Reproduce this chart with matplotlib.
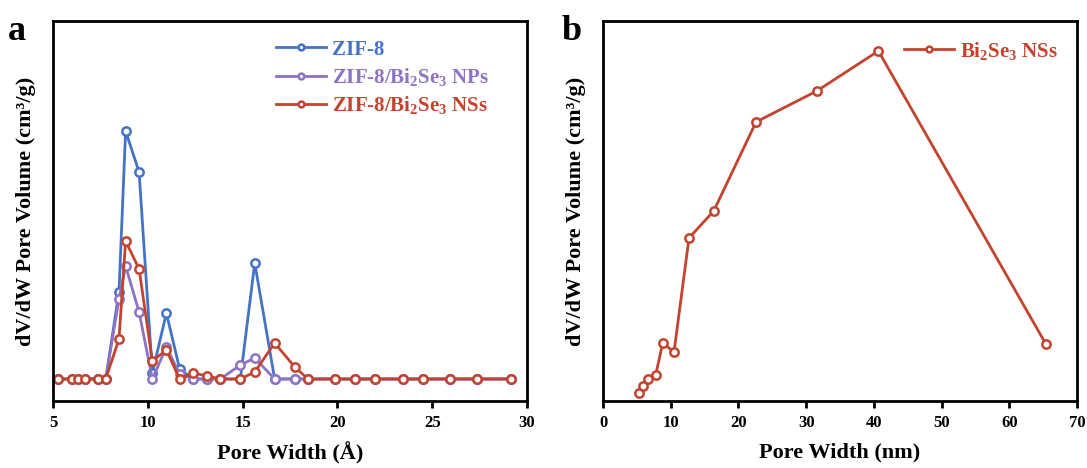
import matplotlib.pyplot as plt

plt.rcParams['font.family'] = ['Liberation Serif', 'DejaVu Serif']
plt.rcParams['font.weight'] = 'bold'
plt.rcParams['mathtext.fontset'] = 'custom'
plt.rcParams['mathtext.rm'] = 'Liberation Serif:bold'
plt.rcParams['mathtext.bf'] = 'Liberation Serif:bold'
plt.rcParams['mathtext.default'] = 'rm'

# pore width bins (Angstrom) for the ZIF-8 samples
width_a = [5.28, 5.99, 6.34, 6.69, 7.39, 7.78, 8.48, 8.83, 9.54, 10.24,
           10.98, 11.68, 12.40, 13.12, 13.83, 14.88, 15.64, 16.69, 17.75,
           18.45, 19.86, 20.93, 21.98, 23.44, 24.50, 25.94, 27.38, 29.16]

zif8 = [0, 0, 0, 0, 0, 0, 0.87, 2.48, 2.07, 0.06,
        0.66, 0.10, 0, 0, 0, 0, 1.16, 0, 0,
        0, 0, 0, 0, 0, 0, 0, 0, 0]
zif8_nps = [0, 0, 0, 0, 0, 0, 0.80, 1.13, 0.67, 0,
            0.32, 0.05, 0, 0, 0, 0.14, 0.21, 0, 0,
            0, 0, 0, 0, 0, 0, 0, 0, 0]
zif8_nss = [0, 0, 0, 0, 0, 0, 0.40, 1.38, 1.10, 0.18,
            0.29, 0, 0.06, 0.03, 0, 0, 0.07, 0.36, 0.12,
            0, 0, 0, 0, 0, 0, 0, 0, 0]

# pore width (nm) for bare Bi2Se3 nanosheets
width_b = [5.36, 5.95, 6.69, 7.78, 8.82, 10.49, 12.70, 16.35, 22.6, 31.57, 40.67, 65.4]
bise_nss = [0.08, 0.15, 0.22, 0.26, 0.58, 0.49, 1.63, 1.90, 2.79, 3.10, 3.50, 0.57]

blue = '#4472C4'
purple = '#8E72C4'
red = '#C4432F'

fig = plt.figure(figsize=(10.87, 4.68), dpi=100)
ax1 = fig.add_axes([53/1087, 67/468, 474/1087, 380/468])
ax2 = fig.add_axes([603/1087, 67/468, 474/1087, 380/468])

style = dict(lw=2, marker='o', ms=6, mfc='white', mew=1.8)
ax1.plot(width_a, zif8, color=blue, label='ZIF-8', **style)
ax1.plot(width_a, zif8_nps, color=purple, label=r'ZIF-8/Bi$_2$Se$_3$ NPs', **style)
ax1.plot(width_a, zif8_nss, color=red, label=r'ZIF-8/Bi$_2$Se$_3$ NSs', **style)
ax1.set_xlim(5, 30)
ax1.set_ylim(-0.22, 3.58)
ax1.set_xticks([5, 10, 15, 20, 25, 30])
ax1.set_xlabel('Pore Width (Å)', fontsize=16, fontweight='bold', labelpad=8)
ax1.set_ylabel('dV/dW Pore Volume (cm³/g)', fontsize=16, fontweight='bold', labelpad=12)
leg1 = ax1.legend(loc='upper left', bbox_to_anchor=(0.43, 1.0), frameon=False,
                  fontsize=15, handlelength=2.4, markerscale=0.7,
                  labelspacing=0.3, handletextpad=0.3)
for txt, c in zip(leg1.get_texts(), [blue, purple, red]):
    txt.set_color(c)

ax2.plot(width_b, bise_nss, color=red, label=r'Bi$_2$Se$_3$ NSs', **style)
ax2.set_xlim(0, 70)
ax2.set_ylim(0, 3.8)
ax2.set_xticks(range(0, 71, 10))
ax2.set_xlabel('Pore Width (nm)', fontsize=16, fontweight='bold', labelpad=8)
ax2.set_ylabel('dV/dW Pore Volume (cm³/g)', fontsize=16, fontweight='bold', labelpad=12)
leg2 = ax2.legend(loc='upper right', bbox_to_anchor=(1.0, 1.0), frameon=False,
                  fontsize=15, handlelength=2.4, markerscale=0.7, handletextpad=0.3)
leg2.get_texts()[0].set_color(red)

for ax in (ax1, ax2):
    ax.set_yticks([])
    for s in ax.spines.values():
        s.set_linewidth(2)
    ax.tick_params(axis='x', direction='out', length=5, width=2, labelsize=12, pad=5)
    for lab in ax.get_xticklabels():
        lab.set_fontweight('bold')

fig.text(8/1087, 1 - 32/468, 'a', fontsize=26, fontweight='bold', va='center')
fig.text(562/1087, 1 - 32/468, 'b', fontsize=26, fontweight='bold', va='center')

fig.savefig('out.png', dpi=100)
